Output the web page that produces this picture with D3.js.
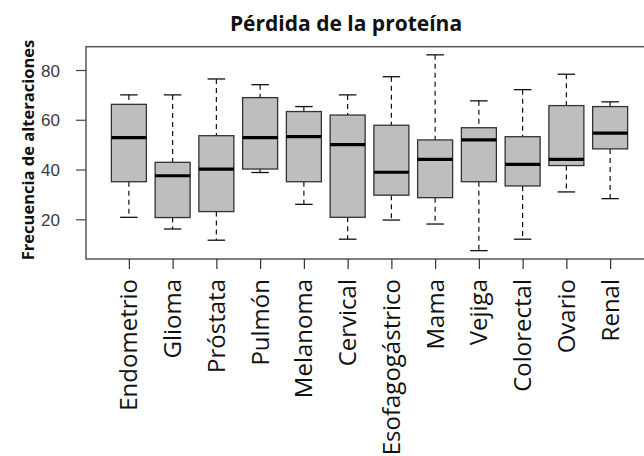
<!DOCTYPE html>
<html><head><meta charset="utf-8">
<script src="https://cdn.jsdelivr.net/npm/d3@7"></script>
<style>body{margin:0;background:#fff}svg{display:block}</style>
</head><body>
<script>
const categories = ["Endometrio","Glioma","Próstata","Pulmón","Melanoma","Cervical","Esofagogástrico","Mama","Vejiga","Colorectal","Ovario","Renal"];
const whiskerLow  = [20.8, 16.1, 11.6, 38.8, 26.0, 12.0, 19.7, 18.1,  7.4, 12.0, 31.0, 28.3];
const q1          = [35.1, 20.7, 23.1, 40.2, 35.1, 20.8, 29.7, 28.7, 35.1, 33.4, 41.6, 48.3];
const median      = [52.8, 37.5, 40.2, 52.8, 53.2, 50.0, 38.9, 44.1, 51.9, 42.1, 44.1, 54.6];
const q3          = [66.2, 42.9, 53.6, 68.9, 63.3, 61.9, 57.8, 51.9, 56.8, 53.2, 65.7, 65.3];
const whiskerHigh = [70.0, 70.0, 76.4, 74.1, 65.3, 70.0, 77.3, 86.1, 67.6, 72.1, 78.3, 67.2];
const yTicks = [20, 40, 60, 80];
const title = "Pérdida de la proteína";
const yTitle = "Frecuencia de alteraciones";

const W = 644, H = 456;
const svg = d3.select("body").append("svg").attr("width", W).attr("height", H);

const x = d3.scaleLinear().domain([0.02, 12.98]).range([86, 653]);
const y = d3.scaleLinear().domain([20, 80]).range([219.3, 70]);
const plotTop = 46.7, plotBottom = 259;
const unit = x(2) - x(1);
const boxW = unit * 0.8, capW = boxW * 0.5;

// frame
svg.append("rect").attr("x", 86).attr("y", plotTop).attr("width", 653 - 86).attr("height", plotBottom - plotTop)
  .attr("fill", "none").attr("stroke", "#555").attr("stroke-width", 1.5);

// y axis
const yAxis = svg.append("g").attr("transform", "translate(86,0)")
  .call(d3.axisLeft(y).tickValues(yTicks).tickSize(10).tickPadding(16));
yAxis.select(".domain").remove();
yAxis.selectAll("line").attr("stroke", "#444").attr("stroke-width", 1.2);
yAxis.selectAll("text").attr("font-family", "Liberation Sans, Arial, sans-serif")
  .attr("font-size", 17).attr("fill", "#3a3a3a").attr("dy", "0.36em");

// x axis
const idx = categories.map((d, i) => i + 1);
const xAxis = svg.append("g").attr("transform", `translate(0,${plotBottom})`)
  .call(d3.axisBottom(x).tickValues(idx).tickSize(10).tickFormat(i => categories[i - 1]));
xAxis.select(".domain").remove();
xAxis.selectAll("line").attr("stroke", "#333").attr("stroke-width", 1.2);
xAxis.selectAll("text")
  .attr("font-family", "Open Sans, sans-serif").attr("font-size", 24).attr("fill", "#111")
  .attr("text-anchor", "end")
  .attr("transform", "rotate(-90)")
  .attr("x", -20).attr("y", 0).attr("dy", "0.33em");

// boxes
const g = svg.append("g");
categories.forEach((c, i) => {
  const cx = x(i + 1);
  g.append("line").attr("x1", cx).attr("x2", cx).attr("y1", y(whiskerHigh[i])).attr("y2", y(q3[i]))
    .attr("stroke", "#111").attr("stroke-width", 1.2).attr("stroke-dasharray", "5,4");
  g.append("line").attr("x1", cx).attr("x2", cx).attr("y1", y(q1[i])).attr("y2", y(whiskerLow[i]))
    .attr("stroke", "#111").attr("stroke-width", 1.2).attr("stroke-dasharray", "5,4");
  [whiskerHigh[i], whiskerLow[i]].forEach(v => {
    g.append("line").attr("x1", cx - capW / 2).attr("x2", cx + capW / 2).attr("y1", y(v)).attr("y2", y(v))
      .attr("stroke", "#111").attr("stroke-width", 1.3);
  });
  g.append("rect").attr("x", cx - boxW / 2).attr("y", y(q3[i])).attr("width", boxW)
    .attr("height", y(q1[i]) - y(q3[i])).attr("fill", "#bebebe").attr("stroke", "#333").attr("stroke-width", 1.3);
  g.append("line").attr("x1", cx - boxW / 2).attr("x2", cx + boxW / 2).attr("y1", y(median[i])).attr("y2", y(median[i]))
    .attr("stroke", "#000").attr("stroke-width", 3.2);
});

// title
svg.append("text").attr("x", 346).attr("y", 31).attr("text-anchor", "middle")
  .attr("font-family", "Open Sans, sans-serif").attr("font-weight", "bold").attr("font-size", 21)
  .attr("fill", "#111").text(title);

// y title
svg.append("text").attr("transform", "translate(34,150) rotate(-90)").attr("text-anchor", "middle")
  .attr("font-family", "Open Sans, sans-serif").attr("font-weight", "bold").attr("font-size", 16.5)
  .attr("fill", "#111").text(yTitle);
</script>
</body></html>
